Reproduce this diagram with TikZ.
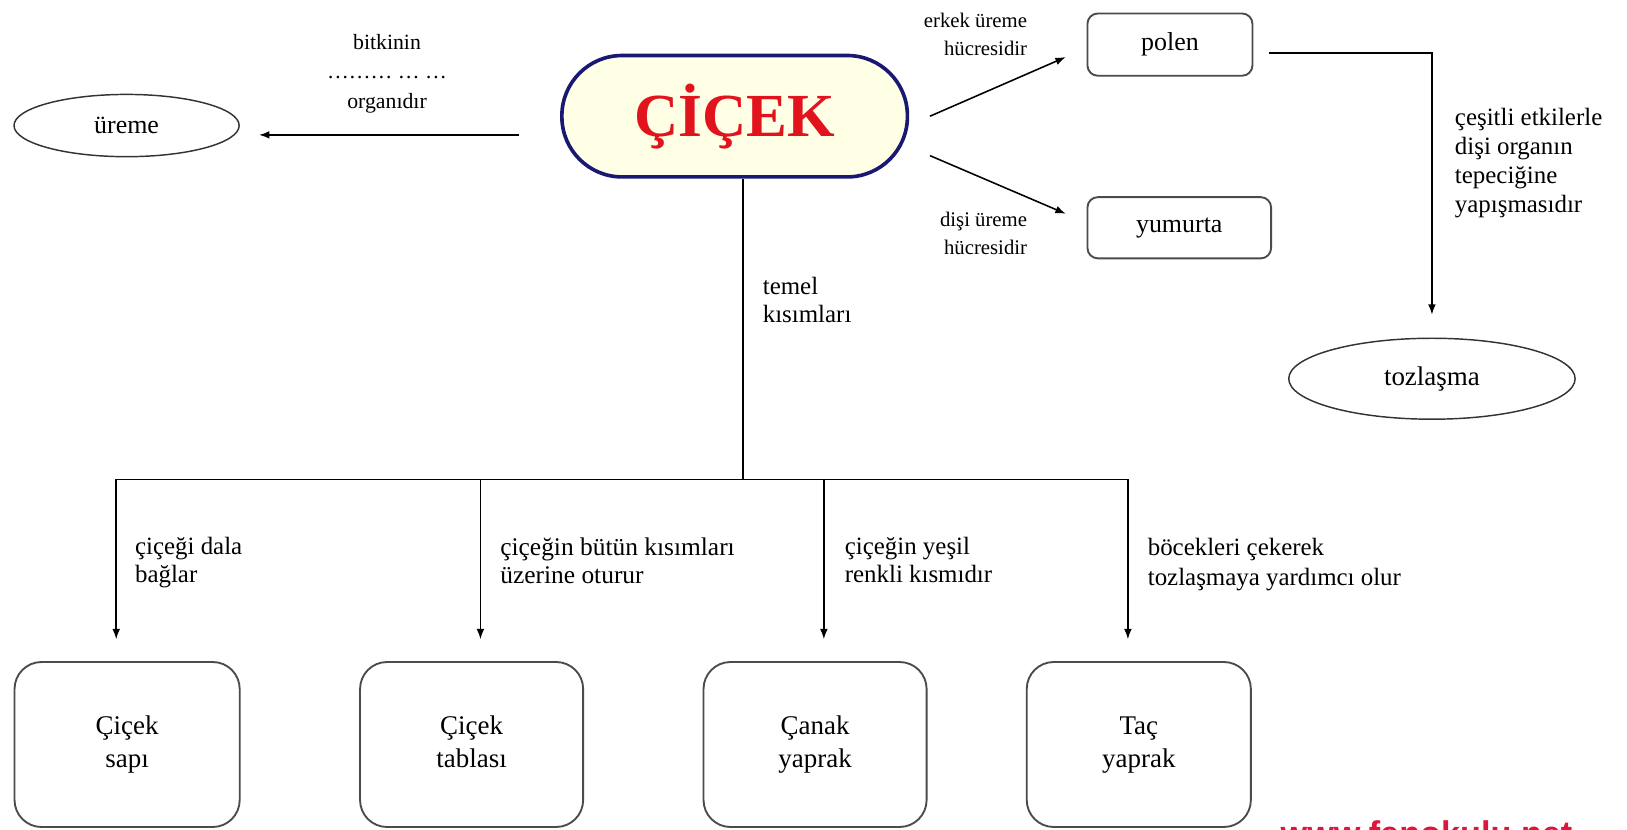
\documentclass[tikz,border=0pt]{standalone}
\usepackage{fontspec}
\setmainfont{Liberation Serif}
\newfontfamily\wmfont{Liberation Sans}
\usetikzlibrary{arrows.meta,shapes.geometric,calc}
\definecolor{navy}{RGB}{25,25,115}
\definecolor{cream}{RGB}{255,255,230}
\definecolor{cred}{RGB}{225,20,30}
\definecolor{wmred}{RGB}{225,20,60}
\definecolor{boxgray}{RGB}{75,75,75}
\begin{document}
\begin{tikzpicture}[x=1pt,y=-1pt,
  arr/.style={line width=1.5pt,-{Latex[length=10pt,width=7.5pt]}},
  ln/.style={line width=1.5pt},
  oval/.style={ellipse,draw=black!80,line width=1.4pt,inner sep=0pt,font=\fontsize{25}{30}\selectfont},
  rbox/.style={rectangle,rounded corners=10pt,draw=boxgray,line width=1.8pt,inner sep=0pt,font=\fontsize{25}{30}\selectfont},
  bigbox/.style={rectangle,rounded corners=26pt,draw=boxgray,line width=1.8pt,minimum height=159pt,inner sep=0pt,align=center,font=\fontsize{26}{32}\selectfont},
  lbl/.style={inner sep=0pt,align=left,font=\fontsize{24}{27}\selectfont},
  slbl/.style={inner sep=0pt,align=right,font=\fontsize{20}{27}\selectfont},
]
\fill[white] (0,0) rectangle (1568,799);
\useasboundingbox (0,0) rectangle (1568,799);

% central node
\node[rectangle,rounded corners=58pt,draw=navy,line width=3.5pt,fill=cream,
      minimum width=333pt,minimum height=117pt,inner sep=0pt,
      font=\fontsize{59}{60}\selectfont\bfseries,text=cred] (cicek) at (708,112) {ÇİÇEK};

% left
\node[oval,minimum width=217pt,minimum height=60pt] (ureme) at (122,121) {üreme};
\node[inner sep=0pt,align=center,font=\fontsize{21}{28.5}\selectfont] (lorg) at (373,71) {bitkinin\\……… … …\\organıdır};

% right
\node[rbox,minimum width=159pt,minimum height=60pt] (polen) at (1127.5,43) {polen};
\node[rbox,minimum width=177pt,minimum height=59pt] (yumurta) at (1136.5,219.5) {yumurta};
\node[oval,minimum width=276pt,minimum height=78pt,font=\fontsize{26}{30}\selectfont] (tozlasma) at (1380,365) {tozlaşma};
\node[slbl,anchor=east] (lerkek) at (990,33) {erkek üreme\\hücresidir};
\node[slbl,anchor=east] (ldisi) at (990,225) {dişi üreme\\hücresidir};
\node[lbl,anchor=west,font=\fontsize{24}{28}\selectfont] (ltoz) at (1402,157) {çeşitli etkilerle\\dişi organın\\tepeciğine\\yapışmasıdır};

% bottom boxes
\node[bigbox,minimum width=217pt] (b1) at (122.5,717.5) {\strut Çiçek\\\strut sapı};
\node[bigbox,minimum width=215pt] (b2) at (454.5,717.5) {\strut Çiçek\\\strut tablası};
\node[bigbox,minimum width=215pt] (b3) at (785.5,717.5) {\strut Çanak\\\strut yaprak};
\node[bigbox,minimum width=216pt] (b4) at (1097.5,717.5) {\strut Taç\\\strut yaprak};

\node[lbl,anchor=west] (ltemel) at (735,289) {temel\\kısımları};
\node[lbl,anchor=west] (l1) at (130,542) {çiçeği dala\\bağlar};
\node[lbl,anchor=west,font=\fontsize{24.5}{27}\selectfont] (l2) at (482,540) {çiçeğin bütün kısımları\\üzerine oturur};
\node[lbl,anchor=west] (l3) at (814,540) {çiçeğin yeşil\\renkli kısmıdır};
\node[lbl,anchor=west,font=\fontsize{24}{29}\selectfont] (l4) at (1106,544) {böcekleri çekerek\\tozlaşmaya yardımcı olur};

% coordinates
\coordinate (jm) at (716,462);
\coordinate (j1) at (112,462);
\coordinate (j2) at (463,462);
\coordinate (j3) at (794,462);
\coordinate (j4) at (1087,462);
\coordinate (us) at ($(cicek.west)+(-39.5,18)$);
\coordinate (pc) at (1380,51);

% connectors
\draw[arr,shorten >=18.5pt] (us) -- (us -| ureme.east);
\draw[arr] ($(cicek.east)+(20,0)$) -- ($(polen.west)+(-20,12)$);
\draw[arr] ($(cicek.east)+(20,38)$) -- ($(yumurta.west)+(-20,-13.5)$);
\draw[arr,shorten >=22pt] ($(polen.east |- pc)+(15,0)$) -- (pc) -- (tozlasma.north);
\draw[ln] (jm |- cicek.south) -- (jm);
\draw[ln] (j1) -- (j4);
\draw[arr,shorten >=21pt] (j1) -- (j1 |- b1.north);
\draw[arr,shorten >=21pt] (j2) -- (j2 |- b2.north);
\draw[arr,shorten >=21pt] (j3) -- (j3 |- b3.north);
\draw[arr,shorten >=21pt] (j4) -- (j4 |- b4.north);

% watermark (cut off at the lower edge, as in the original)
\begin{scope}
\clip (0,0) rectangle (1568,799);
\node[anchor=base west,inner sep=0pt,text=wmred,font=\wmfont\fontsize{33}{36}\selectfont\bfseries] (wm) at (1234,815) {www.fenokulu.net};
\end{scope}
\end{tikzpicture}
\end{document}
